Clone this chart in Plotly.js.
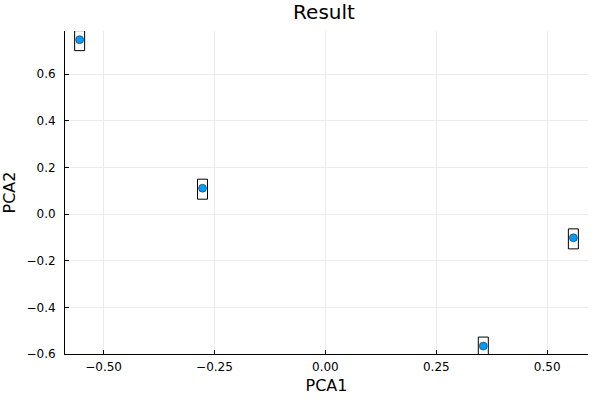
<!DOCTYPE html>
<html>
<head>
<meta charset="utf-8">
<script src="https://cdn.plot.ly/plotly-3.0.1.min.js"></script>
<style>html,body{margin:0;padding:0;background:#fff;}#chart{width:600px;height:400px;}</style>
</head>
<body>
<div id="chart"></div>
<script>
const pca1 = [-0.554, -0.277, 0.559, 0.356];
const pca2 = [0.748, 0.111, -0.102, -0.566];
const xTicks = [-0.5, -0.25, 0, 0.25, 0.5];
const yTicks = [-0.6, -0.4, -0.2, 0, 0.2, 0.4, 0.6];

const shapes = pca1.map((x, i) => ({
  type: 'rect', layer: 'between',
  xref: 'x', yref: 'y',
  xsizemode: 'pixel', ysizemode: 'pixel',
  xanchor: x, yanchor: pca2[i],
  x0: -5, x1: 5, y0: -11, y1: 9,
  line: {color: '#000', width: 1},
  fillcolor: '#fff'
}));

const trace = {
  x: pca1, y: pca2, type: 'scatter', mode: 'markers',
  marker: {color: '#009AFA', size: 8, line: {color: '#1a1a1a', width: 0.5}},
  hoverinfo: 'none'
};

const layout = {
  width: 600, height: 400,
  margin: {l: 65, r: 12, t: 31, b: 46},
  paper_bgcolor: '#fff', plot_bgcolor: '#fff',
  font: {family: 'DejaVu Sans', color: '#000'},
  showlegend: false,
  title: {text: 'Result', font: {size: 20}, x: 0.54, xanchor: 'center', y: 0.97, yanchor: 'middle'},
  xaxis: {
    range: [-0.587, 0.592],
    tickvals: xTicks, tickformat: '.2f',
    ticks: 'inside', ticklen: 4, tickcolor: '#000', tickwidth: 1,
    showgrid: true, gridcolor: '#ececec', gridwidth: 1,
    zeroline: false, showline: true, linecolor: '#000', linewidth: 1,
    mirror: false,
    tickfont: {size: 12},
    ticklabelstandoff: 2,
    title: {text: 'PCA1', font: {size: 16}, standoff: 6}
  },
  yaxis: {
    range: [-0.6, 0.785],
    tickvals: yTicks, tickformat: '.1f',
    ticks: 'inside', ticklen: 4, tickcolor: '#000', tickwidth: 1,
    showgrid: true, gridcolor: '#ececec', gridwidth: 1,
    zeroline: false, showline: true, linecolor: '#000', linewidth: 1,
    tickfont: {size: 12},
    ticklabelstandoff: 6,
    title: {text: 'PCA2', font: {size: 16}, standoff: 8}
  },
  shapes: shapes
};

Plotly.newPlot('chart', [trace], layout, {staticPlot: true, displayModeBar: false});
</script>
</body>
</html>
